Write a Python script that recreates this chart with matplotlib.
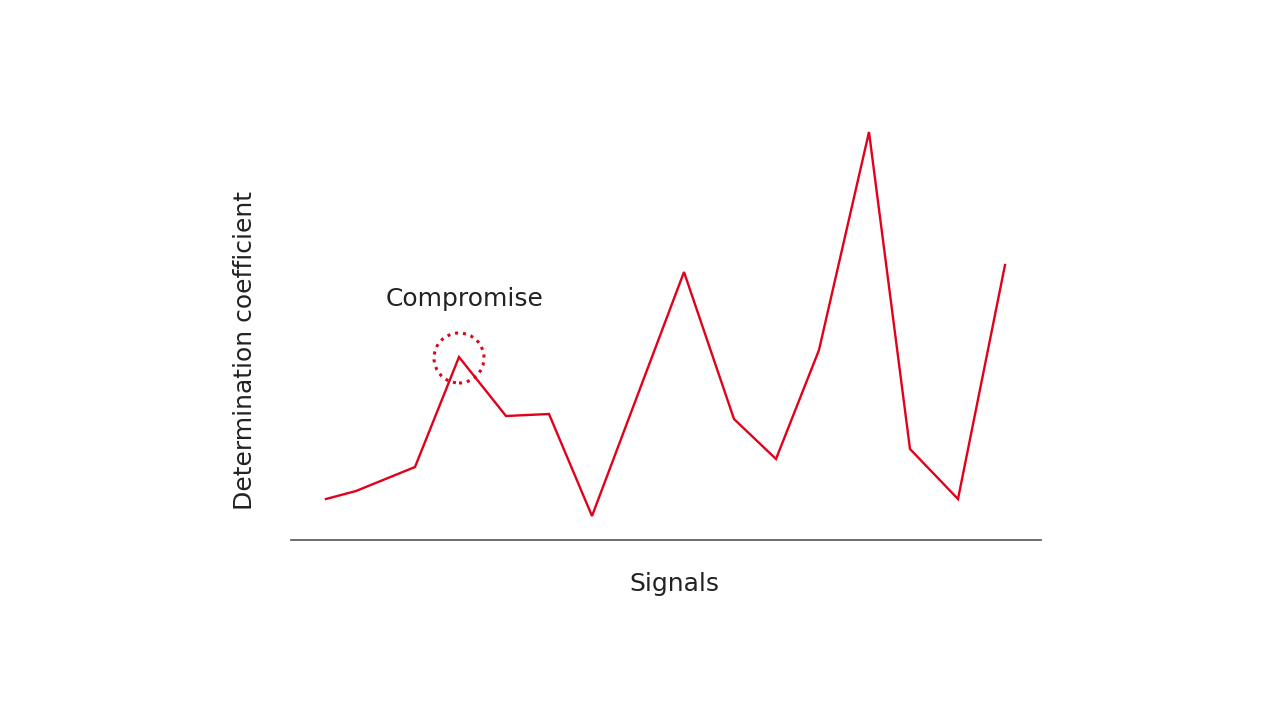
import matplotlib
matplotlib.use("Agg")
import matplotlib.pyplot as plt
from matplotlib.patches import Circle

# Data (arbitrary units)
signal_x = [35, 65, 124, 168, 215, 258, 301, 393, 443, 485, 528, 578, 619, 667, 714]
coef_y = [41, 49, 73, 183, 124, 126, 24, 268, 121, 81, 190, 408, 91, 41, 275]
highlight_index = 3
annotation_text = "Compromise"
x_label = "Signals"
y_label = "Determination coefficient"

RED = "#E2001A"
FONT = ["DejaVu Sans"]

fig = plt.figure(figsize=(12.8, 7.2), dpi=100)
ax = fig.add_axes([291 / 1280, 180 / 720, 750 / 1280, 440 / 720])
ax.set_xlim(0, 750)
ax.set_ylim(0, 440)

ax.plot(signal_x, coef_y, color=RED, lw=1.7, solid_joinstyle="miter")

hx, hy = signal_x[highlight_index], coef_y[highlight_index]
ax.add_patch(Circle((hx, hy - 1), 25, fill=False, edgecolor=RED, lw=2.2,
                    linestyle=(0, (1, 1.6))))
ax.text(hx + 6, hy + 58, annotation_text, ha="center", va="center",
        fontsize=18, family=FONT, color="#222222")

for s in ["top", "right", "left"]:
    ax.spines[s].set_visible(False)
ax.spines["bottom"].set_color("#555555")
ax.spines["bottom"].set_linewidth(1.2)
ax.set_xticks([])
ax.set_yticks([])

fig.text(674 / 1280, 1 - 584 / 720, x_label, ha="center", va="center",
         fontsize=18, family=FONT, color="#222222")
fig.text(245 / 1280, 1 - 350 / 720, y_label, ha="center", va="center",
         rotation=90, fontsize=18, family=FONT, color="#222222")

fig.savefig("out.png", dpi=100, facecolor="white")
